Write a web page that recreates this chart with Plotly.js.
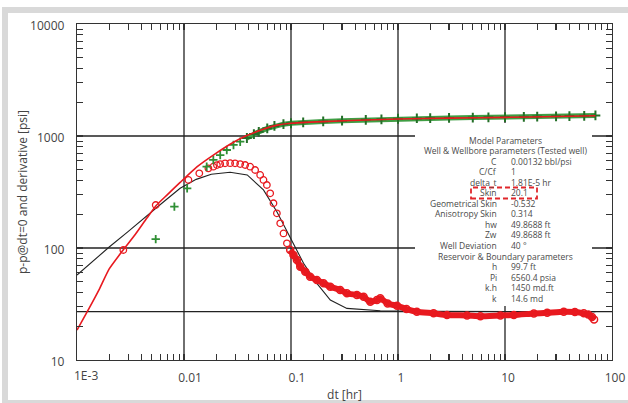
<!DOCTYPE html>
<html>
<head>
<meta charset="utf-8">
<script src="https://cdn.plot.ly/plotly-3.0.1.min.js"></script>
<style>html,body{margin:0;padding:0;background:#fff;}#chart{width:628px;height:403px;}</style>
</head>
<body>
<div id="chart"></div>
<script>
// ---- Data ----
// pressure data (green +), isolated early points
const pEarlyT = [0.00544, 0.00813, 0.0107, 0.0163, 0.0188, 0.0218, 0.0251, 0.029, 0.0335];
const pEarly  = [120, 234, 341, 532, 611, 676, 750, 832, 889];
// pressure data, dense late part
const pLateT = [0.0387, 0.045, 0.05, 0.06, 0.07, 0.085, 0.1, 0.13, 0.2, 0.3, 0.5, 0.7, 1, 1.5, 2, 3, 5, 7, 10, 15, 20, 30, 40, 55, 70];
const pLate  = [960, 1040, 1090, 1170, 1230, 1275, 1300, 1325, 1350, 1370, 1395, 1410, 1425, 1435, 1440, 1450, 1460, 1468, 1475, 1483, 1490, 1498, 1505, 1515, 1525];
// derivative data (red o), individual circles
const dEarlyT = [0.00271, 0.00544, 0.011, 0.0139, 0.0169, 0.0188, 0.0203, 0.0218, 0.0242, 0.027, 0.030, 0.0335, 0.0373, 0.0415, 0.0462, 0.0515, 0.0553, 0.0595, 0.0639, 0.0686, 0.0738, 0.0793, 0.0851, 0.0916];
const dEarly  = [96, 242, 405, 464, 514, 532, 550, 562, 570, 572, 570, 562, 551, 532, 497, 449, 405, 365, 308, 251, 204, 166, 135, 110];
// derivative data, dense late band
const dLateT = [0.0983, 0.1055, 0.1135, 0.122, 0.136, 0.151, 0.1745, 0.2015, 0.233, 0.288, 0.333, 0.413, 0.477, 0.551, 0.636, 0.683, 0.8, 0.979, 1.2, 1.5, 2.15, 2.87, 4.42, 5.89, 9.06, 12.1, 18.6, 24.8, 35.4, 45, 54.5, 60, 65, 68];
const dLate  = [96, 86.6, 78.2, 68.1, 61.4, 55.5, 51.8, 48.4, 45.1, 42.2, 39.4, 38.1, 36.7, 33.1, 34.3, 35.6, 32, 30.5, 28.5, 27.0, 26.1, 25.2, 25.0, 24.6, 25.0, 25.2, 26.0, 26.4, 27.0, 26.8, 26.1, 25.5, 24.2, 23];
// model pressure (red line)
const mPT = [0.001, 0.0013, 0.0016, 0.002, 0.0027, 0.0035, 0.0045, 0.0055, 0.007, 0.0092, 0.0132, 0.0188, 0.029, 0.0387, 0.055, 0.0743, 0.1, 0.2, 0.5, 1, 3, 10, 30, 70];
const mP  = [18.5, 29, 42, 65, 96, 132, 185, 240, 300, 385, 530, 676, 880, 1010, 1150, 1250, 1300, 1345, 1390, 1419, 1445, 1468, 1492, 1515];
// model derivative (black line)
const mDT = [0.001, 0.0015, 0.002, 0.003, 0.0045, 0.0065, 0.0092, 0.013, 0.018, 0.027, 0.039, 0.0553, 0.0738, 0.0983, 0.131, 0.1745, 0.233, 0.333, 0.513, 0.683, 2, 10, 70];
const mD  = [57.4, 81, 102, 140, 195, 260, 341, 410, 455, 474, 449, 330, 211, 126, 73, 48.4, 34.3, 28.9, 27.9, 27.5, 27.2, 27.1, 27];
// reference stabilisation line
const stabLevel = 27;
// axis decades (grid lines) and labels
const xDecades = [0.001, 0.01, 0.1, 1, 10, 100];
const yDecades = [10, 100, 1000, 10000];
const xFirstTick = 0.001;
const xFirstLabel = '1E-3';
const yTopLabel = '10000';
const yTitle = 'p-p@dt=0 and derivative [psi]';
const xTitle = 'dt [hr]';
const minorDigits = ['2', '3', '4', '5', '6', '7', '8', '9'];
// parameter table
const paramHeader1 = 'Model Parameters';
const paramHeader2 = 'Well & Wellbore parameters (Tested well)';
const paramHeader3 = 'Reservoir & Boundary parameters';
const wellLabels = ['C', 'C/Cf', 'delta_t', 'Skin', 'Geometrical Skin', 'Anisotropy Skin', 'hw', 'Zw', 'Well Deviation'];
const wellValues = ['0.00132 bbl/psi', '1', '1.81E-5 hr', '20.1', '-0.532', '0.314', '49.8688 ft', '49.8688 ft', '40 °'];
const resLabels = ['h', 'Pi', 'k.h', 'k'];
const resValues = ['99.7 ft', '6560.4 psia', '1450 md.ft', '14.6 md'];

// ---- Layout helpers (pixel -> paper) ----
const W = 628, H = 403, L = 77, R = 16, T = 24, B = 43;
const PW = W - L - R, PH = H - T - B;
const px = x => (x - L) / PW;
const py = y => (H - B - y) / PH;

const FONT = 'Open Sans, Noto Sans, sans-serif';
const TXT = '#444';
const RED = '#e8191f';
const GREEN = '#2f8f34';
const GRID = {color: '#222', width: 1.3};

const traces = [
  {x: mDT, y: mD, mode: 'lines', line: {color: '#222', width: 1.1}},
  {x: dEarlyT, y: dEarly, mode: 'markers', marker: {symbol: 'circle-open', size: 6.5, color: RED, line: {width: 1.3, color: RED}}},
  {x: dLateT, y: dLate, mode: 'lines+markers', line: {color: RED, width: 6, shape: 'spline', smoothing: 0.6}, marker: {symbol: 'circle-open', size: 7, color: RED, line: {width: 1.5, color: RED}}},
  {x: pEarlyT, y: pEarly, mode: 'markers', marker: {symbol: 'cross-thin', size: 6, color: GREEN, line: {width: 1.8, color: GREEN}}},
  {x: pLateT, y: pLate, mode: 'lines+markers', line: {color: '#3f9e44', width: 5}, marker: {symbol: 'cross-thin', size: 7, color: GREEN, line: {width: 2, color: '#246f28'}}},
  {x: mPT, y: mP, mode: 'lines', line: {color: RED, width: 1.6, shape: 'spline', smoothing: 0.5}}
];

const shapes = [];
// decade grid lines
xDecades.slice(1, -1).forEach(v => shapes.push({type: 'line', xref: 'x', yref: 'paper', x0: v, x1: v, y0: 0, y1: 1, line: GRID, layer: 'below'}));
yDecades.slice(1, -1).forEach(v => shapes.push({type: 'line', xref: 'paper', yref: 'y', x0: 0, x1: 1, y0: v, y1: v, line: GRID, layer: 'below'}));
shapes.push(
  {type: 'line', xref: 'paper', yref: 'y', x0: 0, x1: 1, y0: stabLevel, y1: stabLevel, line: GRID, layer: 'below'},
  {type: 'rect', xref: 'paper', yref: 'paper', x0: px(415), x1: px(592), y0: py(306), y1: py(123), fillcolor: '#ffffff', line: {width: 0}, layer: 'above'},
  {type: 'rect', xref: 'paper', yref: 'paper', x0: px(471), x1: px(537), y0: py(198.5), y1: py(187.5), line: {color: '#e0262b', width: 1.8, dash: '5px,3px'}, fillcolor: 'rgba(0,0,0,0)', layer: 'above'},
  {type: 'rect', xref: 'paper', yref: 'paper', x0: px(2), x1: px(628), y0: py(13), y1: py(7), fillcolor: '#d9d9d9', line: {width: 0}, layer: 'above'},
  {type: 'rect', xref: 'paper', yref: 'paper', x0: px(2), x1: px(8), y0: py(403), y1: py(7), fillcolor: '#d9d9d9', line: {width: 0}, layer: 'above'},
  {type: 'rect', xref: 'paper', yref: 'paper', x0: px(2), x1: px(628), y0: py(403), y1: py(400), fillcolor: '#d9d9d9', line: {width: 0}, layer: 'above'}
);

const annotations = [];
const rowY = i => py(140 + i * 10.55);
const tf = {family: FONT, size: 8.5, color: '#4a4a4a'};
function header(text, i) {
  annotations.push({text: text, xref: 'paper', yref: 'paper', x: px(505), y: rowY(i), xanchor: 'center', yanchor: 'middle', showarrow: false, font: tf});
}
function row(label, value, i) {
  annotations.push({text: label, xref: 'paper', yref: 'paper', x: px(499), y: rowY(i), xanchor: 'right', yanchor: 'middle', showarrow: false, font: tf});
  annotations.push({text: value, xref: 'paper', yref: 'paper', x: px(509), y: rowY(i), xanchor: 'left', yanchor: 'middle', showarrow: false, font: tf});
}
header(paramHeader1, 0);
header(paramHeader2, 1);
wellLabels.forEach((l, k) => row(l, wellValues[k], 2 + k));
header(paramHeader3, 2 + wellLabels.length);
resLabels.forEach((l, k) => row(l, resValues[k], 3 + wellLabels.length + k));
annotations.push({text: xFirstLabel, xref: 'x', yref: 'paper', x: Math.log10(xFirstTick), y: py(375), xanchor: 'left', xshift: -5, yanchor: 'middle', showarrow: false, font: {family: FONT, size: 12, color: TXT}});
annotations.push({text: yTitle, xref: 'paper', yref: 'paper', x: px(22), y: py(192), xanchor: 'center', yanchor: 'middle', textangle: -90, showarrow: false, font: {family: FONT, size: 12, color: TXT}});

// ticks at every digit of each decade; only decade ticks keep a label
const digitAlias = {};
minorDigits.forEach(d => { digitAlias[d] = ''; });
const xAlias = Object.assign({}, digitAlias);
xAlias[String(xFirstTick)] = '';
const yAlias = Object.assign({}, digitAlias);
yAlias['10k'] = yTopLabel;

const axisCommon = {
  type: 'log', showgrid: false, zeroline: false,
  showline: true, linecolor: '#333', linewidth: 1.2, mirror: 'allticks',
  tickmode: 'linear', tick0: 0, dtick: 'D1',
  ticks: 'inside', ticklen: 6, tickwidth: 1.1, tickcolor: '#333',
  tickfont: {family: FONT, size: 12, color: TXT}
};

const layout = {
  width: W, height: H,
  margin: {l: L, r: R, t: T, b: B, pad: 0},
  paper_bgcolor: '#ffffff', plot_bgcolor: '#ffffff',
  showlegend: false,
  xaxis: Object.assign({}, axisCommon, {
    range: [Math.log10(xDecades[0]), Math.log10(xDecades[xDecades.length - 1])], labelalias: xAlias, tickangle: 0,
    title: {text: xTitle, font: {family: FONT, size: 12, color: TXT}, standoff: 8}
  }),
  yaxis: Object.assign({}, axisCommon, {
    range: [Math.log10(yDecades[0]), Math.log10(yDecades[yDecades.length - 1])], labelalias: yAlias,
    ticklabelstandoff: 6, ticklabelshift: 4
  }),
  shapes: shapes,
  annotations: annotations
};

Plotly.newPlot('chart', traces, layout, {staticPlot: true, displayModeBar: false});
</script>
</body>
</html>
